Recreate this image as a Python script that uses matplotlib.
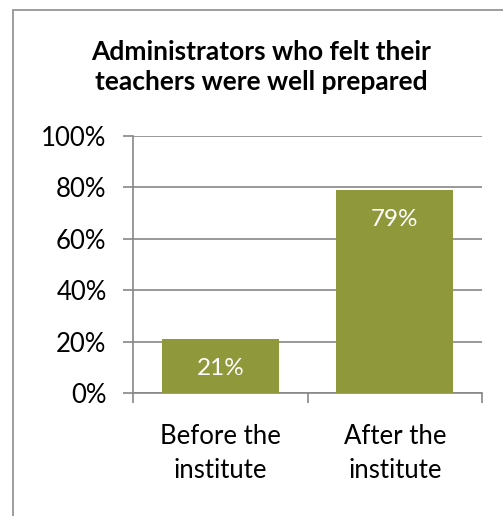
import matplotlib
matplotlib.use('Agg')
import matplotlib.pyplot as plt
from matplotlib.patches import Rectangle

plt.rcParams.update({
    'font.family': ['Lato', 'DejaVu Sans'],
    'font.size': 18.5,
})

categories = ['Before the\ninstitute', 'After the\ninstitute']
values = [21, 79]
labels = ['21%', '79%']
yticks = [0, 20, 40, 60, 80, 100]

BAR = '#8F993C'
GRID = '#878787'

fig = plt.figure(figsize=(5.03, 5.16), dpi=100)
W, H = 503, 516

# chart border (only top/left edges fall inside the image)
fig.patches.append(Rectangle((13 / W, -0.1), 1.2, 1.1 - 10 / H, transform=fig.transFigure,
                             fill=False, edgecolor='#8C8C8C', linewidth=1.2))

ax = fig.add_axes([133 / W, 1 - 393 / H, (482 - 133) / W, (393 - 136) / H])
x = list(range(len(categories)))
ax.bar(x, values, width=0.67, color=BAR, zorder=3)

for xi, v, lab in zip(x, values, labels):
    ax.annotate(lab, (xi, v), xytext=(0, -21), textcoords='offset points',
                ha='center', va='center', color='white', fontsize=17.5)

ax.set_xlim(-0.5, 1.5)
ax.set_ylim(0, 100)
ax.set_yticks(yticks)
ax.set_yticklabels([f'{t}%' for t in yticks])
ax.yaxis.grid(True, color=GRID, linewidth=1.2, zorder=0)
ax.set_axisbelow(True)

ax.set_xticks(x)
ax.set_xticklabels(categories, linespacing=1.45)
ax.set_xticks([-0.5, 0.5, 1.5], minor=True)
ax.tick_params(axis='x', which='major', length=0, pad=22)
ax.tick_params(axis='x', which='minor', length=7, color=GRID, width=1.2)
ax.tick_params(axis='y', length=7, color=GRID, width=1.2, pad=12)

for s in ['top', 'right']:
    ax.spines[s].set_visible(False)
for s in ['left', 'bottom']:
    ax.spines[s].set_color(GRID)
    ax.spines[s].set_linewidth(1.2)

fig.text(261 / W, 1 - 67 / H, 'Administrators who felt their\nteachers were well prepared',
         ha='center', va='center', fontsize=19, fontweight='bold', linespacing=1.3)

fig.savefig('out.png', dpi=100)
